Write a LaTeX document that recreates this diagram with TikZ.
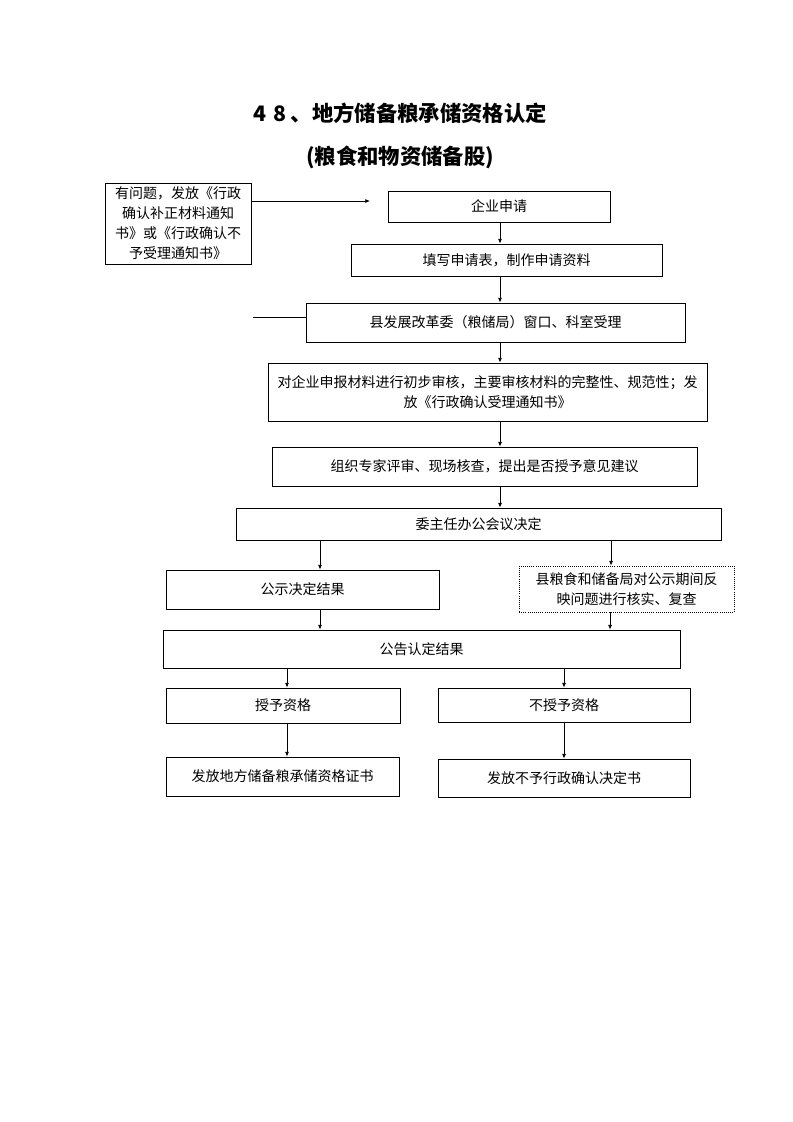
\documentclass[tikz,border=0pt]{standalone}
\usepackage{fontspec}
\setmainfont{Noto Sans CJK SC}
\usetikzlibrary{arrows.meta}
\begin{document}
\begin{tikzpicture}[x=0.75pt,y=-0.75pt,
  box/.style={draw,line width=0.6pt,inner sep=0pt,align=center,font=\fontsize{10.5pt}{15pt}\selectfont},
  dotbox/.style={box,densely dotted},
  arr/.style={line width=0.6pt,-{Latex[length=3.5pt,width=3pt]}},
  ln/.style={line width=0.6pt},
  ttl/.style={font=\fontsize{16pt}{20pt}\selectfont\bfseries}]
\fill[white] (0,0) rectangle (793,1122);
\useasboundingbox (0,0) rectangle (793,1122);
% titles
\node[ttl] (t1) at (400,113) {4\hspace{0.35em}8\hspace{0.2em}、地方储备粮承储资格认定};
\node[ttl] (t2) at (400,157) {(粮食和物资储备股)};
% boxes
\node[box,minimum width=109.5pt,minimum height=60.75pt,text width=104pt] (lb) at (178,223.5)
  {有问题，发放《行政\\确认补正材料通知\\书》或《行政确认不\\予受理通知书》};
\node[box,minimum width=166.5pt,minimum height=23.25pt] (a) at (499,206.5) {企业申请};
\node[box,minimum width=233.25pt,minimum height=24pt] (b) at (506.5,260) {填写申请表，制作申请资料};
\node[box,minimum width=284.25pt,minimum height=29.25pt] (c) at (495.5,322.5) {县发展改革委（粮储局）窗口、科室受理};
\node[box,minimum width=329.25pt,minimum height=43.5pt,text width=322pt] (d) at (487.5,392)
  {对企业申报材料进行初步审核，主要审核材料的完整性、规范性；发\\放《行政确认受理通知书》};
\node[box,minimum width=318.75pt,minimum height=29.25pt] (e) at (484.5,466.5) {组织专家评审、现场核查，提出是否授予意见建议};
\node[box,minimum width=363.75pt,minimum height=24pt] (f) at (478.5,524) {委主任办公会议决定};
\node[box,minimum width=204.75pt,minimum height=29.25pt] (g) at (302.5,589.5) {公示决定结果};
\node[dotbox,minimum width=161.25pt,minimum height=34.5pt,text width=156pt] (h) at (626.5,589)
  {县粮食和储备局对公示期间反\\映问题进行核实、复查};
\node[box,minimum width=387.75pt,minimum height=28.5pt] (i) at (421.5,649) {公告认定结果};
\node[box,minimum width=175.5pt,minimum height=26.25pt] (j) at (283,705.5) {授予资格};
\node[box,minimum width=189pt,minimum height=25.5pt] (k) at (564,705) {不授予资格};
\node[box,minimum width=174.75pt,minimum height=29.25pt] (l) at (282.5,776.5) {发放地方储备粮承储资格证书};
\node[box,minimum width=189pt,minimum height=28.5pt] (m) at (564,778) {发放不予行政确认决定书};
% column coordinates
\coordinate (xc) at (500,0);
\coordinate (xl) at (320,0);
\coordinate (xr) at (611,0);
\coordinate (xr2) at (610,0);
\coordinate (xj) at (287,0);
\coordinate (xk) at (564,0);
\coordinate (tip) at (370,201);
\coordinate (ls) at (253,317);
% connectors
\draw[arr] (lb.east |- tip) -- (tip);
\draw[ln] (ls) -- (ls -| c.west);
\draw[arr] (a.south -| xc) -- (b.north -| xc);
\draw[arr] (b.south -| xc) -- (c.north -| xc);
\draw[arr] (c.south -| xc) -- (d.north -| xc);
\draw[arr] (d.south -| xc) -- (e.north -| xc);
\draw[arr] (e.south -| xc) -- (f.north -| xc);
\draw[arr] (f.south -| xl) -- (g.north -| xl);
\draw[arr] (f.south -| xr) -- (h.north -| xr);
\draw[arr] (g.south -| xl) -- (i.north -| xl);
\draw[arr] (h.south -| xr2) -- (i.north -| xr2);
\draw[arr] (i.south -| xj) -- (j.north -| xj);
\draw[arr] (i.south -| xk) -- (k.north -| xk);
\draw[arr] (j.south -| xj) -- (l.north -| xj);
\draw[arr] (k.south -| xk) -- (m.north -| xk);
\end{tikzpicture}
\end{document}
